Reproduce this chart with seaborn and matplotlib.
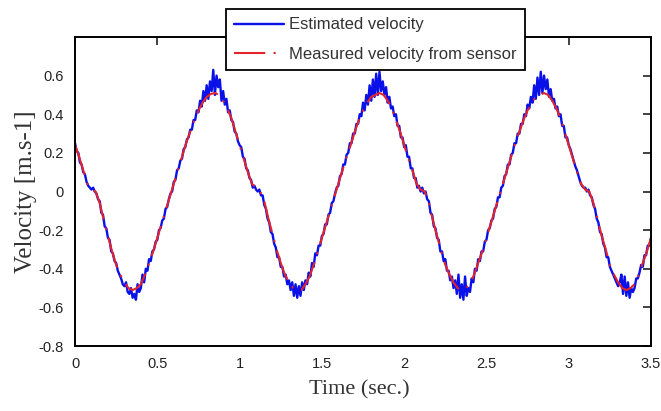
import numpy as np
import pandas as pd
import seaborn as sns
import matplotlib.pyplot as plt

# measured velocity, one sample every 0.025 s from 0 to 3.5 s
measured = [
    0.24, 0.18, 0.11, 0.04, 0.01, 0.00, -0.06, -0.15, -0.23, -0.31,
    -0.38, -0.43, -0.47, -0.50, -0.51, -0.50, -0.48, -0.43, -0.37, -0.31,
    -0.24, -0.17, -0.10, -0.03, 0.04, 0.11, 0.18, 0.25, 0.31, 0.37,
    0.42, 0.46, 0.49, 0.505, 0.51, 0.50, 0.47, 0.43, 0.38, 0.31,
    0.24, 0.17, 0.10, 0.04, 0.02, 0.00, -0.05, -0.14, -0.22, -0.30,
    -0.37, -0.43, -0.47, -0.50, -0.51, -0.51, -0.48, -0.44, -0.38, -0.31,
    -0.24, -0.17, -0.10, -0.03, 0.04, 0.11, 0.18, 0.24, 0.31, 0.37,
    0.42, 0.46, 0.49, 0.50, 0.51, 0.50, 0.47, 0.43, 0.37, 0.31,
    0.24, 0.17, 0.11, 0.04, 0.01, 0.00, -0.06, -0.15, -0.23, -0.31,
    -0.38, -0.43, -0.47, -0.50, -0.51, -0.50, -0.48, -0.43, -0.37, -0.31,
    -0.24, -0.17, -0.10, -0.03, 0.04, 0.11, 0.18, 0.25, 0.31, 0.37,
    0.42, 0.46, 0.49, 0.50, 0.51, 0.50, 0.47, 0.43, 0.38, 0.31,
    0.24, 0.17, 0.10, 0.04, 0.01, 0.00, -0.06, -0.14, -0.23, -0.30,
    -0.38, -0.43, -0.47, -0.50, -0.51, -0.50, -0.48, -0.43, -0.37, -0.31,
    -0.24,
]

# estimated velocity, one sample every 0.01 s from 0 to 3.5 s
estimated = [
    0.25, 0.21, 0.20, 0.15, 0.14, 0.10, 0.09, 0.05, 0.03, 0.02,
    0.01, 0.02, 0.00, -0.01, -0.04, -0.05, -0.11, -0.12, -0.18, -0.19,
    -0.24, -0.25, -0.31, -0.32, -0.36, -0.37, -0.41, -0.43, -0.45, -0.48,
    -0.49, -0.47, -0.52, -0.53, -0.50, -0.55, -0.53, -0.56, -0.48, -0.52,
    -0.50, -0.43, -0.47, -0.40, -0.41, -0.35, -0.36, -0.31, -0.30, -0.26,
    -0.25, -0.20, -0.19, -0.15, -0.14, -0.09, -0.08, -0.04, -0.01, 0.00,
    0.05, 0.06, 0.11, 0.12, 0.16, 0.17, 0.22, 0.23, 0.27, 0.28,
    0.32, 0.32, 0.37, 0.37, 0.42, 0.41, 0.47, 0.44, 0.52, 0.47,
    0.55, 0.48, 0.57, 0.52, 0.63, 0.50, 0.60, 0.54, 0.58, 0.47,
    0.52, 0.45, 0.48, 0.41, 0.42, 0.37, 0.36, 0.31, 0.30, 0.26,
    0.24, 0.23, 0.18, 0.17, 0.12, 0.11, 0.07, 0.06, 0.02, 0.03,
    0.01, 0.00, 0.01, -0.02, -0.02, -0.07, -0.09, -0.14, -0.16, -0.21,
    -0.22, -0.27, -0.29, -0.34, -0.34, -0.39, -0.39, -0.44, -0.43, -0.48,
    -0.46, -0.51, -0.47, -0.54, -0.48, -0.55, -0.49, -0.54, -0.47, -0.51,
    -0.46, -0.48, -0.42, -0.44, -0.37, -0.39, -0.32, -0.33, -0.28, -0.28,
    -0.23, -0.22, -0.17, -0.17, -0.12, -0.11, -0.06, -0.05, -0.01, 0.02,
    0.03, 0.08, 0.09, 0.14, 0.14, 0.19, 0.20, 0.25, 0.25, 0.30,
    0.30, 0.35, 0.35, 0.40, 0.39, 0.46, 0.42, 0.50, 0.45, 0.55,
    0.47, 0.58, 0.49, 0.61, 0.50, 0.62, 0.52, 0.57, 0.50, 0.54,
    0.46, 0.49, 0.43, 0.44, 0.39, 0.40, 0.34, 0.34, 0.28, 0.28,
    0.23, 0.24, 0.18, 0.18, 0.12, 0.12, 0.07, 0.07, 0.02, 0.03,
    0.00, 0.02, -0.01, 0.00, -0.04, -0.05, -0.11, -0.12, -0.18, -0.19,
    -0.24, -0.25, -0.31, -0.31, -0.36, -0.35, -0.41, -0.41, -0.46, -0.44,
    -0.50, -0.46, -0.53, -0.43, -0.55, -0.48, -0.56, -0.44, -0.54, -0.50,
    -0.52, -0.45, -0.47, -0.40, -0.41, -0.35, -0.36, -0.31, -0.31, -0.26,
    -0.25, -0.20, -0.19, -0.15, -0.14, -0.09, -0.08, -0.03, -0.03, 0.02,
    0.03, 0.08, 0.09, 0.14, 0.14, 0.19, 0.20, 0.25, 0.25, 0.30,
    0.30, 0.35, 0.35, 0.40, 0.39, 0.45, 0.43, 0.49, 0.46, 0.55,
    0.48, 0.59, 0.50, 0.62, 0.51, 0.60, 0.53, 0.58, 0.49, 0.53,
    0.47, 0.48, 0.43, 0.44, 0.39, 0.40, 0.34, 0.34, 0.28, 0.28,
    0.24, 0.22, 0.19, 0.16, 0.13, 0.11, 0.08, 0.05, 0.03, 0.02,
    0.02, 0.00, 0.01, -0.02, -0.03, -0.07, -0.09, -0.14, -0.16, -0.21,
    -0.22, -0.27, -0.29, -0.34, -0.34, -0.39, -0.41, -0.43, -0.45, -0.47,
    -0.49, -0.47, -0.43, -0.53, -0.44, -0.54, -0.47, -0.55, -0.50, -0.52,
    -0.50, -0.45, -0.45, -0.42, -0.38, -0.39, -0.33, -0.33, -0.28, -0.28,
    -0.24,
]

t_meas = np.linspace(0, 3.5, len(measured))
t_est = np.linspace(0, 3.5, len(estimated))
est_df = pd.DataFrame({"t": t_est, "v": estimated})
meas_df = pd.DataFrame({"t": t_meas, "v": measured})

x_ticks = [0, 0.5, 1, 1.5, 2, 2.5, 3, 3.5]
x_labels = ["0", "0.5", "1", "1.5", "2", "2.5", "3", "3.5"]
y_ticks = [-0.8, -0.6, -0.4, -0.2, 0, 0.2, 0.4, 0.6]
y_labels = ["-0.8", "-0.6", "-0.4", "-0.2", "0", "0.2", "0.4", "0.6"]

sns.set_theme(style="white")
plt.rcParams["font.family"] = ["Liberation Sans", "DejaVu Sans"]

fig = plt.figure(figsize=(6.61, 4.11), dpi=100)
ax = fig.add_axes([0.1135, 0.158, 0.8714, 0.752])

sns.lineplot(data=est_df, x="t", y="v", ax=ax, color="#0a10e8", lw=1.7,
             label="Estimated velocity", estimator=None, sort=False)
sns.lineplot(data=meas_df, x="t", y="v", ax=ax, color="#e3242b", lw=1.5,
             label="Measured velocity from sensor", estimator=None, sort=False)
# dash-dot, pattern is scaled by the line width
ax.lines[-1].set_dashes([15, 4, 1, 4])

ax.set_xlim(0, 3.5)
ax.set_ylim(-0.8, 0.8)
ax.set_xticks(x_ticks)
ax.set_xticklabels(x_labels)
ax.set_yticks(y_ticks)
ax.set_yticklabels(y_labels)
ax.tick_params(direction="in", length=6, width=1.2, top=True, right=True,
               labelsize=10.5, colors="#222222", pad=8)
for sp in ax.spines.values():
    sp.set_color("black")
    sp.set_linewidth(1.4)

ax.set_xlabel("Time (sec.)", fontsize=16, family="Liberation Serif", color="#333333")
ax.set_ylabel("Velocity [m.s-1]", fontsize=18, family="Liberation Serif", color="#333333")
ax.xaxis.set_label_coords(0.493, -0.11)
ax.yaxis.set_label_coords(-0.066, 0.5)

leg = ax.legend(loc="upper center", bbox_to_anchor=(0.568, 0.978),
                bbox_transform=fig.transFigure, borderaxespad=0, fontsize=12,
                handlelength=3, handletextpad=0.3, labelspacing=0.85,
                borderpad=0.5, fancybox=False, framealpha=1)
leg.get_frame().set_edgecolor("black")
leg.get_frame().set_linewidth(1.3)
for txt in leg.get_texts():
    txt.set_color("#333333")

fig.savefig("out.png", dpi=100)
